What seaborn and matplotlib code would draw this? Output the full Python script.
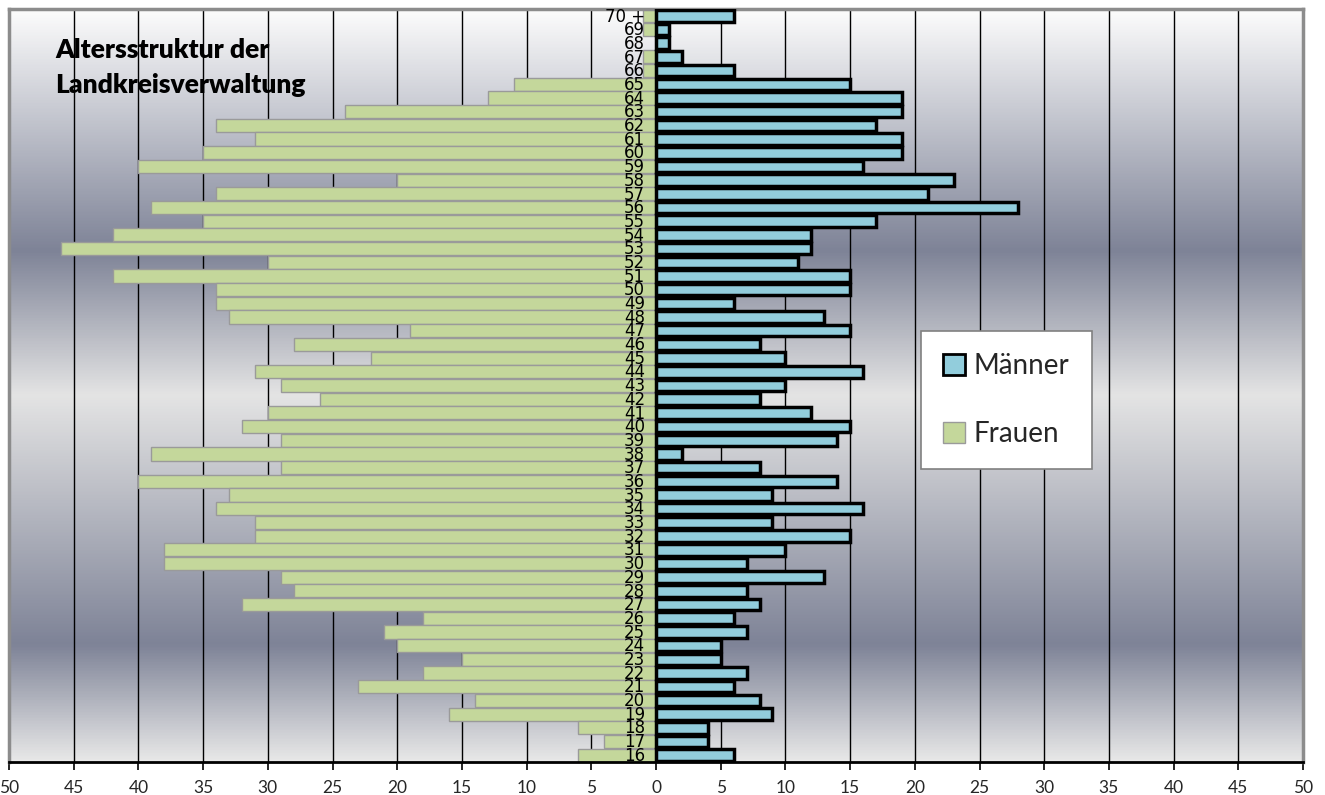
import numpy as np
import pandas as pd
import matplotlib
matplotlib.use("Agg")
import matplotlib.pyplot as plt
from matplotlib.colors import LinearSegmentedColormap
from matplotlib.patches import Patch
import seaborn as sns

# Age groups, top to bottom
ages = ["70 +"] + [str(a) for a in range(69, 15, -1)]

# Headcount per age group
maenner = [6, 1, 1, 2, 6, 15, 19, 19, 17, 19, 19, 16, 23, 21, 28, 17, 12, 12, 11,
           15, 15, 6, 13, 15, 8, 10, 16, 10, 8, 12, 15, 14, 2, 8, 14, 9, 16, 9,
           15, 10, 7, 13, 7, 8, 6, 7, 5, 5, 7, 6, 8, 9, 4, 4, 6]
frauen = [1, 1, 0, 1, 1, 11, 13, 24, 34, 31, 35, 40, 20, 34, 39, 35, 42, 46, 30,
          42, 34, 34, 33, 19, 28, 22, 31, 29, 26, 30, 32, 29, 39, 29, 40, 33, 34,
          31, 31, 38, 38, 29, 28, 32, 18, 21, 20, 15, 18, 23, 14, 16, 6, 4, 6]

x_ticks = list(range(-50, 55, 5))

df = pd.DataFrame({"Alter": ages, "Männer": maenner,
                   "Frauen": [-v for v in frauen]})

sns.set_theme(style="white")
plt.rcParams["font.family"] = ["Lato", "DejaVu Sans"]

fig = plt.figure(figsize=(13.25, 7.95), dpi=100)
ax = fig.add_axes([9 / 1325, 33 / 795, 1294 / 1325, 753 / 795])

# Banded grey-blue gradient background
grad = LinearSegmentedColormap.from_list(
    "band",
    [(0.0, "#fcfcfc"), (0.32, "#7e8397"), (0.513, "#e4e4e4"),
     (0.845, "#7e8397"), (1.0, "#e8e8e8")])
ax.imshow(np.linspace(0, 1, 512).reshape(-1, 1), cmap=grad, aspect="auto",
          extent=[0, 1, 0, 1], transform=ax.transAxes, zorder=-2,
          interpolation="bilinear")

sns.barplot(data=df, y="Alter", x="Frauen", order=ages, orient="h",
            color="#c4d79b", edgecolor="#9a9a9a", linewidth=1.0,
            width=0.96, saturation=1, ax=ax, zorder=2)
sns.barplot(data=df, y="Alter", x="Männer", order=ages, orient="h",
            color="#92cddc", edgecolor="black", linewidth=2.5,
            width=0.84, saturation=1, ax=ax, zorder=3)

# Age labels next to the zero line
for i, a in enumerate(ages):
    ax.text(-0.85, i + 0.05, a, ha="right", va="center", fontsize=12,
            family=["Liberation Sans Narrow", "DejaVu Sans"], color="black",
            zorder=5)

ax.set_xlim(-50, 50)
ax.set_ylim(len(ages) - 0.5, -0.5)
ax.set_xticks(x_ticks)
ax.set_xticklabels([str(abs(t)) for t in x_ticks], fontsize=12.5)
ax.set_yticks([])
ax.set_xlabel("")
ax.set_ylabel("")
ax.tick_params(axis="x", bottom=True, length=6, width=1.2, color="black",
               direction="out", pad=7)

ax.set_axisbelow(True)
ax.xaxis.grid(True, color="black", linewidth=1.0, zorder=-1)
ax.yaxis.grid(False)

for side in ["top", "left", "right"]:
    ax.spines[side].set_color("#8c8c8c")
    ax.spines[side].set_linewidth(2.5)
ax.spines["bottom"].set_color("black")
ax.spines["bottom"].set_linewidth(2.0)

fig.text(55 / 1325, 1 - 58 / 795, "Altersstruktur der", fontsize=19,
         fontweight="heavy", va="baseline", ha="left", color="black")
fig.text(55 / 1325, 1 - 93 / 795, "Landkreisverwaltung", fontsize=19,
         fontweight="heavy", va="baseline", ha="left", color="black")

handles = [Patch(facecolor="#92cddc", edgecolor="black", linewidth=2.0),
           Patch(facecolor="#c4d79b", edgecolor="#9a9a9a", linewidth=1.0)]
leg = ax.legend(handles, ["Männer", "Frauen"], loc="upper left",
                bbox_to_anchor=(921 / 1325, 1 - 331 / 795),
                bbox_transform=fig.transFigure, fontsize=20, frameon=True,
                fancybox=False, framealpha=1, edgecolor="#808080",
                handlelength=0.8, handleheight=0.8, handletextpad=0.3,
                labelspacing=1.5, borderpad=0.8, borderaxespad=0)
leg.get_frame().set_linewidth(1.2)
leg.set_zorder(10)

fig.savefig("out.png", dpi=100)
